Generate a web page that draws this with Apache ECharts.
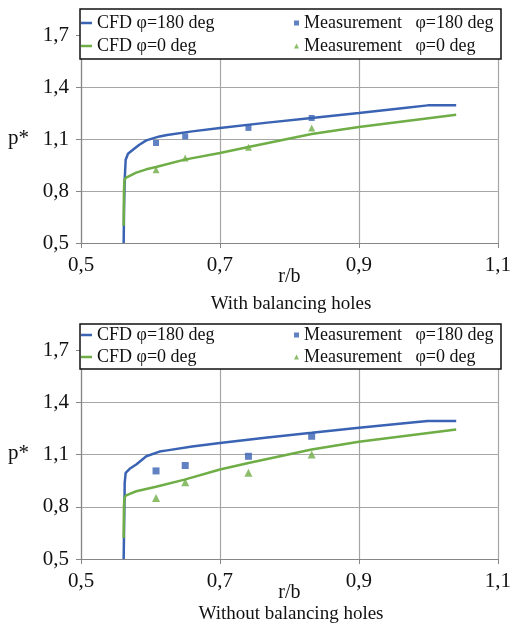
<!DOCTYPE html>
<html>
<head>
<meta charset="utf-8">
<script src="https://cdn.jsdelivr.net/npm/echarts@6/dist/echarts.min.js"></script>
<style>
  html, body { margin: 0; padding: 0; background: #fff; }
  #main { width: 514px; height: 626px; }
</style>
</head>
<body>
<div id="main"></div>
<script>
// measurement radii (same for both cases)
const measR = [0.608, 0.65, 0.741, 0.832];

// --- with balancing holes ---
const topCfd180R = [0.5614, 0.5620, 0.5629, 0.5643, 0.5676, 0.577, 0.584, 0.594, 0.613, 0.624, 0.66, 0.70, 0.765, 0.832, 0.90, 0.965, 0.999, 1.04];
const topCfd180P = [0.50, 0.70, 0.865, 0.98, 1.015, 1.045, 1.067, 1.092, 1.115, 1.123, 1.144, 1.164, 1.193, 1.221, 1.25, 1.279, 1.294, 1.294];
const topCfd0R = [0.5614, 0.5618, 0.5625, 0.565, 0.5795, 0.594, 0.608, 0.649, 0.70, 0.741, 0.832, 0.90, 1.04];
const topCfd0P = [0.60, 0.80, 0.865, 0.877, 0.906, 0.925, 0.938, 0.981, 1.019, 1.054, 1.129, 1.169, 1.240];
const topMeas180P = [1.077, 1.115, 1.164, 1.221];
const topMeas0P = [0.923, 0.99, 1.052, 1.164];

// --- without balancing holes ---
const botCfd180R = [0.5614, 0.5625, 0.5629, 0.5643, 0.570, 0.5795, 0.594, 0.613, 0.624, 0.66, 0.70, 0.765, 0.832, 0.90, 0.98, 0.999, 1.04];
const botCfd180P = [0.50, 0.80, 0.937, 0.995, 1.018, 1.043, 1.09, 1.117, 1.124, 1.146, 1.167, 1.197, 1.225, 1.254, 1.286, 1.293, 1.293];
const botCfd0R = [0.5614, 0.5618, 0.5625, 0.565, 0.5795, 0.608, 0.649, 0.70, 0.741, 0.832, 0.90, 1.04];
const botCfd0P = [0.62, 0.80, 0.851, 0.866, 0.889, 0.915, 0.956, 1.014, 1.052, 1.129, 1.173, 1.244];
const botMeas180P = [1.006, 1.037, 1.09, 1.205];
const botMeas0P = [0.851, 0.941, 0.995, 1.1];

const yTicks = [0.5, 0.8, 1.1, 1.4, 1.7];
const names = ['CFD φ=180 deg', 'CFD φ=0 deg', 'Measurement   φ=180 deg', 'Measurement   φ=0 deg'];
const captions = ['With balancing holes', 'Without balancing holes'];

const blue = '#3a63b3';
const green = '#6fad46';
const serif = '"Liberation Serif", "DejaVu Serif", serif';

function zip(a, b) { return a.map((v, i) => [v, b[i]]); }
function comma(v) { return (+v).toFixed(1).replace('.', ','); }

const gridTops = [9, 324];
const gridH = [234, 235];

function xAxisFor(i) {
  return {
    type: 'value', gridIndex: i, min: 0.5, max: 1.1, interval: 0.2,
    name: 'r/b', nameLocation: 'middle', nameGap: 24, nameMoveOverlap: false,
    nameTextStyle: { fontFamily: serif, fontSize: 20, color: '#111' },
    axisLine: { lineStyle: { color: '#868686', width: 1.2 } },
    axisTick: { show: true, inside: false, length: 5, lineStyle: { color: '#868686' } },
    axisLabel: { formatter: comma, fontFamily: serif, fontSize: 21, color: '#111', margin: 12 },
    splitLine: { show: true, lineStyle: { color: '#a6a6a6', width: 1.2 } }
  };
}
function yAxisFor(i) {
  return {
    type: 'value', gridIndex: i, min: 0.5, max: 1.85, interval: 0.3,
    axisLine: { show: true, lineStyle: { color: '#868686', width: 1.2 } },
    axisTick: { show: true, length: 5, customValues: yTicks, lineStyle: { color: '#868686' } },
    axisLabel: { customValues: yTicks, formatter: comma, fontFamily: serif, fontSize: 21, color: '#111', margin: 12 },
    splitLine: { show: true, lineStyle: { color: '#a6a6a6', width: 1.2 } }
  };
}

function lineSeries(name, color, r, p, i) {
  return {
    name: name, type: 'line', xAxisIndex: i, yAxisIndex: i,
    data: zip(r, p), showSymbol: false, symbol: 'none',
    lineStyle: { color: color, width: 2.5 }, itemStyle: { color: color }, z: 3
  };
}
function measSeries(name, color, sym, size, p, i) {
  return {
    name: name, type: 'scatter', xAxisIndex: i, yAxisIndex: i,
    data: zip(measR, p), symbol: sym, symbolSize: size,
    itemStyle: { color: color }, z: 4
  };
}

function legendsFor(i) {
  const top = i === 0 ? 13 : 325;
  const gap = i === 0 ? 3 : 2;
  const txt = { fontFamily: serif, fontSize: 18, color: '#111', lineHeight: 20 };
  return [
    { orient: 'vertical', left: 81, top: top, padding: 0, itemGap: gap, itemWidth: 11, itemHeight: 2.5,
      data: [{ name: names[0], icon: 'rect' }, { name: names[1], icon: 'rect' }],
      textStyle: txt, selectedMode: false, z: 6 },
    { orient: 'vertical', left: 294, top: top, padding: 0, itemGap: gap, itemWidth: 5, itemHeight: 5,
      data: [{ name: names[2], icon: 'rect' }, { name: names[3], icon: 'triangle' }],
      textStyle: txt, selectedMode: false, z: 6 }
  ];
}

const chart = echarts.init(document.getElementById('main'), null, { renderer: 'canvas' });
chart.setOption({
  animation: false,
  backgroundColor: '#fff',
  grid: [0, 1].map(i => ({ left: 81, right: 13, top: gridTops[i], height: gridH[i], containLabel: false })),
  xAxis: [xAxisFor(0), xAxisFor(1)],
  yAxis: [yAxisFor(0), yAxisFor(1)],
  legend: legendsFor(0).concat(legendsFor(1)),
  title: [
    { text: captions[0], left: 291, top: 295, textAlign: 'center', padding: 0,
      textStyle: { fontFamily: serif, fontSize: 19, fontWeight: 'normal', color: '#111' } },
    { text: captions[1], left: 291, top: 605, textAlign: 'center', padding: 0,
      textStyle: { fontFamily: serif, fontSize: 19, fontWeight: 'normal', color: '#111' } },
    { text: 'p*', left: 8, top: 128, padding: 0,
      textStyle: { fontFamily: serif, fontSize: 21, fontWeight: 'normal', color: '#111' } },
    { text: 'p*', left: 8, top: 443, padding: 0,
      textStyle: { fontFamily: serif, fontSize: 21, fontWeight: 'normal', color: '#111' } }
  ],
  graphic: [
    { type: 'rect', z: 5, shape: { x: 80, y: 9, width: 421, height: 50 },
      style: { fill: '#fff', stroke: '#111', lineWidth: 1.5 } },
    { type: 'rect', z: 5, shape: { x: 80, y: 324, width: 421, height: 45 },
      style: { fill: '#fff', stroke: '#111', lineWidth: 1.5 } }
  ],
  series: [
    lineSeries(names[0], blue, topCfd180R, topCfd180P, 0),
    lineSeries(names[1], green, topCfd0R, topCfd0P, 0),
    measSeries(names[2], blue, 'rect', 6, topMeas180P, 0),
    measSeries(names[3], green, 'triangle', 7, topMeas0P, 0),
    lineSeries(names[0], blue, botCfd180R, botCfd180P, 1),
    lineSeries(names[1], green, botCfd0R, botCfd0P, 1),
    measSeries(names[2], blue, 'rect', 7, botMeas180P, 1),
    measSeries(names[3], green, 'triangle', 8, botMeas0P, 1)
  ]
});
</script>
</body>
</html>
